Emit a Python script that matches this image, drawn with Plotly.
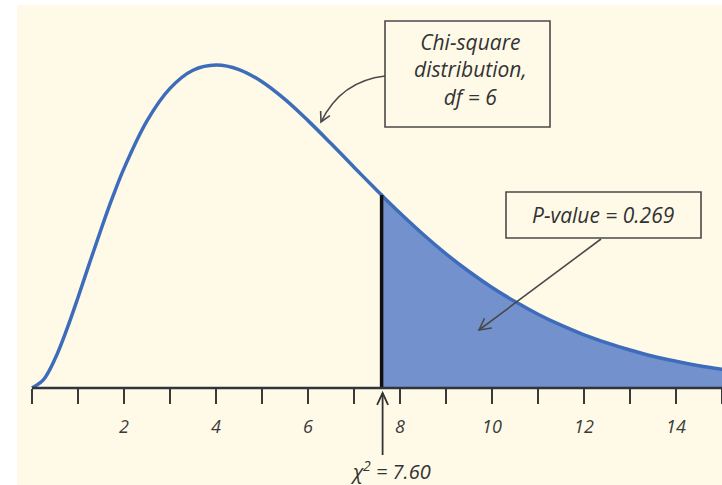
import math
import plotly.graph_objects as go

# ---- data ----
x_vals = [0, 0.25, 0.5, 0.75, 1, 1.25, 1.5, 1.75, 2, 2.5, 3, 3.5, 4, 4.5, 5, 5.5, 6, 6.5, 7, 7.5, 7.6,
          8, 8.5, 9, 9.5, 10, 10.5, 11, 11.5, 12, 12.5, 13, 13.5, 14, 14.5, 15, 15.5]
density = [0, 0.0035, 0.0122, 0.0242, 0.0379, 0.0523, 0.0664, 0.0798, 0.0920, 0.1119, 0.1255,
           0.1331, 0.1353, 0.1334, 0.1283, 0.1209, 0.1120, 0.1024, 0.0925, 0.0827, 0.0808,
           0.0733, 0.0644, 0.0562, 0.0488, 0.0421, 0.0362, 0.0309, 0.0263, 0.0223,
           0.0189, 0.0159, 0.0133, 0.0112, 0.0093, 0.0078, 0.0065]
chi_stat = 7.60
df = 6
p_value = 0.269
label_ticks = [2, 4, 6, 8, 10, 12, 14]
label_text = [str(v) for v in label_ticks]

# ---- styling / geometry ----
W, H = 722, 485
ML, MT = 17, 5
X0_PX, X_SCALE = 32, 46.0
Y0_PX, Y_SCALE = 388, 2387.3
x_range = [(ML - X0_PX) / X_SCALE, (W - X0_PX) / X_SCALE]
y_range = [(Y0_PX - H) / Y_SCALE, (Y0_PX - MT) / Y_SCALE]


def X(px):
    return (px - X0_PX) / X_SCALE


def Y(py):
    return (Y0_PX - py) / Y_SCALE


BG = "#FFFAE8"
CURVE = "#3D6DBA"
FILL = "#7291CD"
INK = "#333333"
FONT = "Open Sans"

tail_x = [x for x in x_vals if x >= chi_stat]
tail_y = [y for x, y in zip(x_vals, density) if x >= chi_stat]
stat_y = density[x_vals.index(chi_stat)]

fig = go.Figure()
fig.add_trace(go.Scatter(x=tail_x, y=tail_y, mode="lines", line=dict(width=0, shape="spline"),
                         fill="tozeroy", fillcolor=FILL, hoverinfo="skip"))
fig.add_trace(go.Scatter(x=x_vals, y=density, mode="lines",
                         line=dict(color=CURVE, width=3.5, shape="spline"), hoverinfo="skip"))
fig.add_trace(go.Scatter(x=[chi_stat, chi_stat], y=[0, stat_y], mode="lines",
                         line=dict(color="#111111", width=3.5), hoverinfo="skip"))

shapes = []
shapes.append(dict(type="line", x0=0, x1=x_range[1] + 1, y0=0, y1=0,
                   line=dict(color="#2f343d", width=2.5), layer="above"))


def arrow_head(tip, tail_dir, length=11, ang=28):
    dx, dy = tail_dir
    n = math.hypot(dx, dy)
    dx, dy = dx / n, dy / n
    pts = []
    for s in (1, -1):
        a = math.radians(ang * s)
        rx = dx * math.cos(a) - dy * math.sin(a)
        ry = dx * math.sin(a) + dy * math.cos(a)
        pts.append((tip[0] + rx * length, tip[1] + ry * length))
    return (f"M {X(pts[0][0])},{Y(pts[0][1])} L {X(tip[0])},{Y(tip[1])} "
            f"L {X(pts[1][0])},{Y(pts[1][1])}")


arrow_line = dict(color="#4a4a4a", width=1.6)

p0, c, p2 = (385, 76), (341, 81), (321, 122)
shapes.append(dict(type="path",
                   path=f"M {X(p0[0])},{Y(p0[1])} Q {X(c[0])},{Y(c[1])} {X(p2[0])},{Y(p2[1])}",
                   line=arrow_line))
shapes.append(dict(type="path", path=arrow_head(p2, (c[0] - p2[0], c[1] - p2[1])), line=arrow_line))

a0, a1 = (601, 239), (479, 330)
shapes.append(dict(type="line", x0=X(a0[0]), y0=Y(a0[1]), x1=X(a1[0]), y1=Y(a1[1]), line=arrow_line))
shapes.append(dict(type="path", path=arrow_head(a1, (a0[0] - a1[0], a0[1] - a1[1]), 13), line=arrow_line))

sx = X0_PX + chi_stat * X_SCALE + 1
b0, b1 = (sx, 455), (sx, 393)
shapes.append(dict(type="line", x0=X(b0[0]), y0=Y(b0[1]), x1=X(b1[0]), y1=Y(b1[1]),
                   line=dict(color="#333333", width=1.8)))
shapes.append(dict(type="path", path=arrow_head(b1, (0, 1), 13, 25), line=dict(color="#333333", width=1.8)))

box_line = dict(color="#4a4a4a", width=1.6)
shapes.append(dict(type="rect", x0=X(385), x1=X(550), y0=Y(21), y1=Y(127), line=box_line))
shapes.append(dict(type="rect", x0=X(506), x1=X(701), y0=Y(192), y1=Y(238), line=box_line))

txt_font = dict(family=FONT, size=21, color=INK, style="italic")
annotations = [
    dict(x=X(470), y=Y(69), text=f"Chi-square<br>distribution,<br>df = {df}", showarrow=False,
         font=txt_font, align="center", xanchor="center", yanchor="middle"),
    dict(x=X(603), y=Y(215), text=f"P-value = {p_value:.3f}", showarrow=False,
         font=txt_font, xanchor="center", yanchor="middle"),
    dict(x=X(390), y=Y(470), text=f"χ<sup>2</sup> = {chi_stat:.2f}", showarrow=False,
         font=dict(family=FONT, size=20, color=INK, style="italic"), xanchor="center", yanchor="middle"),
]

y_pos = (0 - y_range[0]) / (y_range[1] - y_range[0])

fig.update_layout(
    width=W, height=H,
    margin=dict(l=ML, r=0, t=MT, b=0),
    paper_bgcolor="white", plot_bgcolor=BG,
    showlegend=False,
    shapes=shapes, annotations=annotations,
    xaxis=dict(range=x_range, showgrid=False, zeroline=False, showline=False,
               anchor="free", position=y_pos,
               tickmode="array", tickvals=label_ticks, ticktext=label_text,
               ticks="outside", ticklen=15, tickwidth=2, tickcolor="#3a3a3a",
               ticklabelstandoff=7,
               tickfont=dict(family=FONT, size=18, color="#3a3a3a", style="italic"),
               minor=dict(tickmode="linear", tick0=0, dtick=1, ticks="outside",
                          ticklen=15, tickwidth=2, tickcolor="#3a3a3a")),
    yaxis=dict(range=y_range, visible=False, showgrid=False, zeroline=False),
)

fig.write_html("out.html", config={"displayModeBar": False},
               post_script="document.body.style.margin='0';")
